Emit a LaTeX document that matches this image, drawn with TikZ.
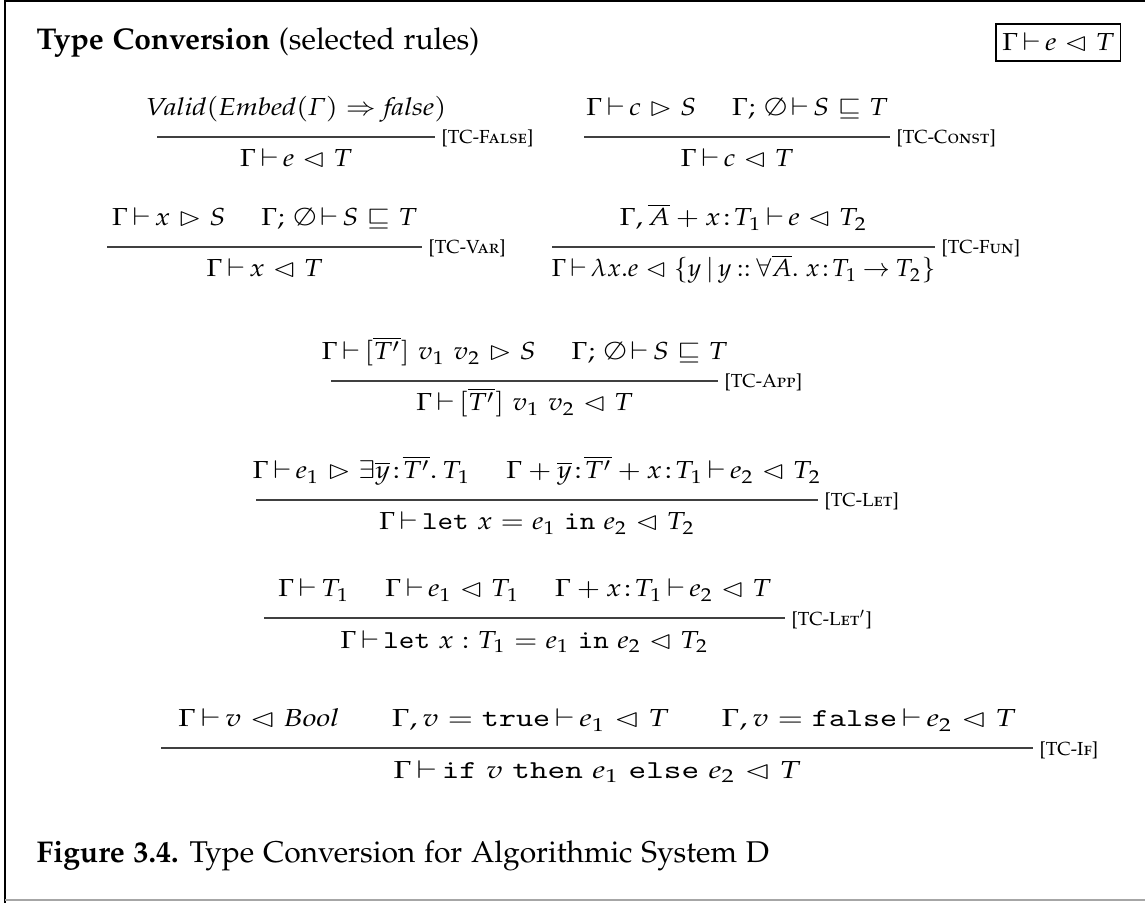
\documentclass[tikz,border=0pt]{standalone}
\usepackage[T1]{fontenc}
\usepackage{graphicx}
\usepackage{amsmath,amssymb}
\usepackage[sc]{mathpazo}
\usetikzlibrary{calc}
\newcommand\pgap{\hspace{1.25em}}
\newcommand\lt{\mathrel{\vartriangleleft}}
\newcommand\gt{\mathrel{\vartriangleright}}
\newcommand\vd{\mathrel{\mkern-2.5mu\vdash\mkern-2.5mu}}
\newcommand\ty{\mkern1.5mu{:}\mkern1.5mu}
\newcommand\kw[1]{\text{\scalebox{0.86}{\fontencoding{OT1}\fontfamily{cmtt}\fontseries{m}\fontshape{n}\fontsize{10}{12}\selectfont #1}}}
\newcommand\mth[1]{\scalebox{1.15}[1]{$\displaystyle #1$}}
\newcommand\mthx[2]{\scalebox{#1}[1]{$\displaystyle #2$}}
\tikzset{
  prem/.style={anchor=base, inner sep=0pt, font=\fontsize{8.2}{10}\selectfont},
  concl/.style={prem},
  rlabel/.style={anchor=base west, inner sep=0pt, font=\fontsize{6.3}{8}\selectfont},
  ruleline/.style={line width=0.6pt, draw=black!75},
  txt/.style={anchor=base west, inner sep=0pt, font=\fontsize{10}{12}\selectfont},
}
\begin{document}
\begin{tikzpicture}[x=0.3333pt, y=-0.3333pt]
\useasboundingbox (0,0) rectangle (1145,903);
% frame
\draw[black, line width=0.6pt] (5,903) -- (5,1) -- (1145,1);
\draw[black!35, line width=0.6pt] (5,900) -- (1145,900);

\node[txt] (title) at (36,50) {\textbf{Type Conversion} (selected rules)};
\node[draw, line width=0.4pt, anchor=east, inner xsep=2pt, inner ysep=0pt, minimum height=12.3pt,
      font=\fontsize{8.2}{10}\selectfont] (judg) at (1121,42.5) {\mth{\Gamma \vd e \lt T}};

% TC-False
\coordinate (aL) at (157,137); \coordinate (aR) at (435,137);
\draw[ruleline] (aL) -- (aR);
\node[prem] (aP) at ($(aL)!0.5!(aR)+(0,-21)$) {\mth{\mathit{Valid}(\mathit{Embed}(\mathit{\Gamma}) \Rightarrow \mathit{false})}};
\node[concl] (aC) at ($(aL)!0.5!(aR)+(0,30)$) {\mth{\Gamma \vd e \lt T}};
\node[rlabel] (aN) at ($(aR)+(6,7)$) {[TC-\textsc{False}]};

% TC-Const
\coordinate (bL) at (584,137); \coordinate (bR) at (890,137);
\draw[ruleline] (bL) -- (bR);
\node[prem] (bP) at ($(bL)!0.5!(bR)+(0,-21)$) {\mth{\Gamma \vd c \gt S \pgap \Gamma;\, \emptyset \vd S \sqsubseteq T}};
\node[concl] (bC) at ($(bL)!0.5!(bR)+(0,30)$) {\mth{\Gamma \vd c \lt T}};
\node[rlabel] (bN) at ($(bR)+(6,7)$) {[TC-\textsc{Const}]};

% TC-Var
\coordinate (cL) at (107,247); \coordinate (cR) at (422,247);
\draw[ruleline] (cL) -- (cR);
\node[prem] (cP) at ($(cL)!0.5!(cR)+(0,-21)$) {\mth{\Gamma \vd x \gt S \pgap \Gamma;\, \emptyset \vd S \sqsubseteq T}};
\node[concl] (cC) at ($(cL)!0.5!(cR)+(0,30)$) {\mth{\Gamma \vd x \lt T}};
\node[rlabel] (cN) at ($(cR)+(6,7)$) {[TC-\textsc{Var}]};

% TC-Fun
\coordinate (dL) at (552,247); \coordinate (dR) at (935,247);
\draw[ruleline] (dL) -- (dR);
\node[prem] (dP) at ($(dL)!0.5!(dR)+(0,-21)$) {\mth{\Gamma, \overline{A} + x\ty T_1 \vd e \lt T_2}};
\node[concl] (dC) at ($(dL)!0.5!(dR)+(0,30)$) {\mthx{1.05}{\Gamma \vd \lambda x.e \lt \{y \,|\, y \mathbin{::} \forall\overline{A}.\; x\ty T_1 \mathbin{\to} T_2\}}};
\node[rlabel] (dN) at ($(dR)+(6,7)$) {[TC-\textsc{Fun}]};

% TC-App
\coordinate (eL) at (331,381); \coordinate (eR) at (718,381);
\draw[ruleline] (eL) -- (eR);
\node[prem] (eP) at ($(eL)!0.5!(eR)+(0,-21)$) {\mth{\Gamma \vd [\overline{T'}]\ v_1\ v_2 \gt S \pgap \Gamma;\, \emptyset \vd S \sqsubseteq T}};
\node[concl] (eC) at ($(eL)!0.5!(eR)+(0,30)$) {\mth{\Gamma \vd [\overline{T'}]\ v_1\ v_2 \lt T}};
\node[rlabel] (eN) at ($(eR)+(6,7)$) {[TC-\textsc{App}]};

% TC-Let
\coordinate (fL) at (256,500); \coordinate (fR) at (818,500);
\draw[ruleline] (fL) -- (fR);
\node[prem] (fP) at ($(fL)!0.5!(fR)+(0,-21)$) {\mth{\Gamma \vd e_1 \gt \exists\overline{y}\ty\overline{T'}.\, T_1 \pgap \Gamma + \overline{y}\ty\overline{T'} + x\ty T_1 \vd e_2 \lt T_2}};
\node[concl] (fC) at ($(fL)!0.5!(fR)+(0,30)$) {\mth{\Gamma \vd \kw{let}\ x = e_1\ \kw{in}\ e_2 \lt T_2}};
\node[rlabel] (fN) at ($(fR)+(6,7)$) {[TC-\textsc{Let}]};

% TC-Let'
\coordinate (gL) at (264,618); \coordinate (gR) at (785,618);
\draw[ruleline] (gL) -- (gR);
\node[prem] (gP) at ($(gL)!0.5!(gR)+(0,-21)$) {\mth{\Gamma \vd T_1 \pgap \Gamma \vd e_1 \lt T_1 \pgap \Gamma + x\ty T_1 \vd e_2 \lt T}};
\node[concl] (gC) at ($(gL)!0.5!(gR)+(0,30)$) {\mth{\Gamma \vd \kw{let}\ x : T_1 = e_1\ \kw{in}\ e_2 \lt T_2}};
\node[rlabel] (gN) at ($(gR)+(6,7)$) {[TC-\textsc{Let}$'$]};

% TC-If
\coordinate (hL) at (161,748); \coordinate (hR) at (1033,748);
\draw[ruleline] (hL) -- (hR);
\node[prem] (hP) at ($(hL)!0.5!(hR)+(0,-21)$) {\mthx{1.26}{\Gamma \vd v \lt \mathit{Bool} \hspace{1.7em} \Gamma, v = \kw{true} \vd e_1 \lt T \hspace{1.7em} \Gamma, v = \kw{false} \vd e_2 \lt T}};
\node[concl] (hC) at ($(hL)!0.5!(hR)+(0,30)$) {\mthx{1.3}{\Gamma \vd \kw{if}\ v\ \kw{then}\ e_1\ \kw{else}\ e_2 \lt T}};
\node[rlabel] (hN) at ($(hR)+(6,7)$) {[TC-\textsc{If}]};

\node[txt] (cap) at (36,862) {\textbf{Figure 3.4.} Type Conversion for Algorithmic System D};
\end{tikzpicture}
\end{document}
